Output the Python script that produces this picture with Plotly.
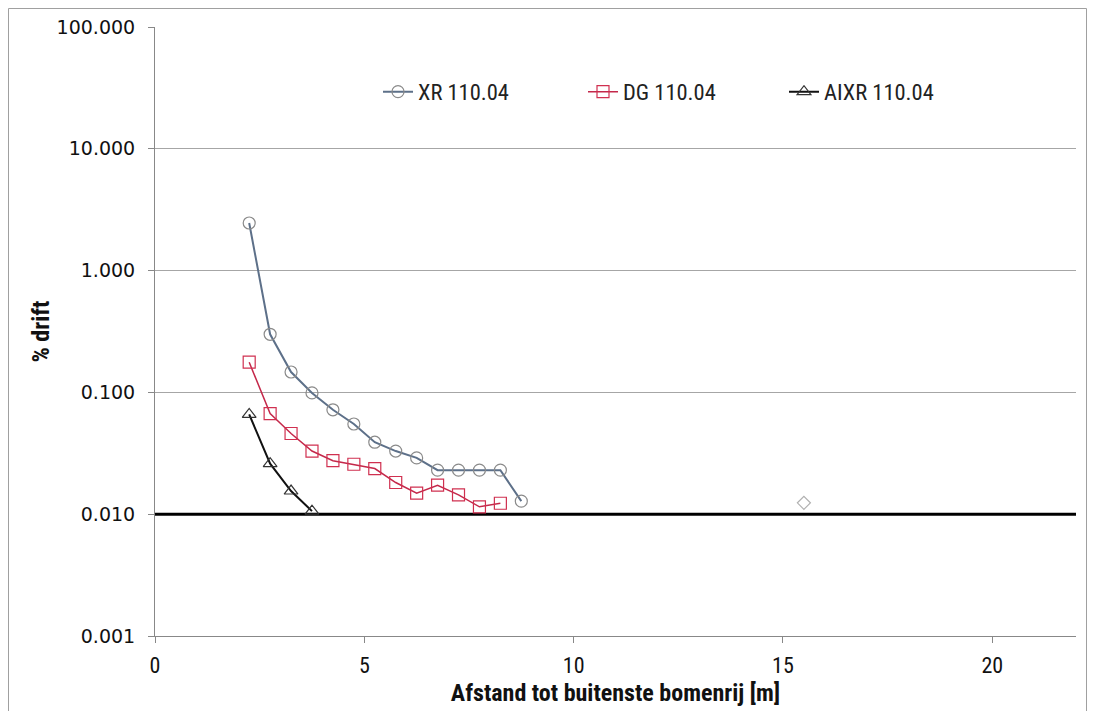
import plotly.graph_objects as go

# Data
xr_x = [2.25, 2.75, 3.25, 3.75, 4.25, 4.75, 5.25, 5.75, 6.25, 6.75, 7.25, 7.75, 8.25, 8.75]
xr_y = [2.46, 0.30, 0.147, 0.099, 0.072, 0.055, 0.039, 0.033, 0.029, 0.023, 0.023, 0.023, 0.023, 0.0128]
dg_x = [2.25, 2.75, 3.25, 3.75, 4.25, 4.75, 5.25, 5.75, 6.25, 6.75, 7.25, 7.75, 8.25]
dg_y = [0.177, 0.067, 0.046, 0.033, 0.0275, 0.0257, 0.0237, 0.0182, 0.0149, 0.0173, 0.0144, 0.0115, 0.0123]
aixr_x = [2.25, 2.75, 3.25, 3.75]
aixr_y = [0.066, 0.026, 0.0155, 0.0106]
extra_x = [15.5]
extra_y = [0.0124]
ref_x = [0, 22]
ref_y = [0.01, 0.01]

y_tickvals = [0.001, 0.01, 0.1, 1, 10, 100]
y_ticktext = ["0.001", "0.010", "0.100", "1.000", "10.000", "100.000"]
x_tickvals = [0, 5, 10, 15, 20]

narrow = "Roboto Condensed, DejaVu Sans, sans-serif"

fig = go.Figure()

fig.add_trace(go.Scatter(
    x=ref_x, y=ref_y, mode="lines", line=dict(color="black", width=3),
    showlegend=False, hoverinfo="skip"))

fig.add_trace(go.Scatter(
    x=xr_x, y=xr_y, mode="lines+markers", name="XR 110.04",
    line=dict(color="#5d7089", width=2),
    marker=dict(symbol="circle-open", size=12, color="#8a8a8a", line=dict(width=1.2)),
    legend="legend"))

fig.add_trace(go.Scatter(
    x=dg_x, y=dg_y, mode="lines+markers", name="DG 110.04",
    line=dict(color="#c4284a", width=1.5),
    marker=dict(symbol="square-open", size=12, color="#d03050", line=dict(width=1.2)),
    legend="legend2"))

fig.add_trace(go.Scatter(
    x=aixr_x, y=aixr_y, mode="lines+markers", name="AIXR 110.04",
    line=dict(color="#111111", width=2),
    marker=dict(symbol="triangle-up-open", size=12, color="#333333", line=dict(width=1.2)),
    legend="legend3"))

fig.add_trace(go.Scatter(
    x=extra_x, y=extra_y, mode="markers",
    marker=dict(symbol="diamond-open", size=10, color="#b0b0b0", line=dict(width=1.2)),
    showlegend=False))

leg_common = dict(orientation="h", bgcolor="rgba(0,0,0,0)", yanchor="middle",
                  xanchor="left", font=dict(family=narrow, size=22.5, color="#222"),
                  itemwidth=30)

# Figure is drawn with an 8px page offset (body margin)
W, H = 1079, 703
l, r, t, b = 147, 11, 19, 75
pw, ph = W - l - r, H - t - b

def px_x(p):
    return (p - l) / pw

def px_y(p):
    return (H - b - p) / ph

fig.update_layout(
    width=W, height=H,
    margin=dict(l=l, r=r, t=t, b=b, autoexpand=False),
    paper_bgcolor="white", plot_bgcolor="white",
    legend=dict(**leg_common, x=px_x(370), y=px_y(84)),
    legend2=dict(**leg_common, x=px_x(575), y=px_y(84)),
    legend3=dict(**leg_common, x=px_x(776), y=px_y(84)),
    xaxis=dict(
        range=[0, 22], tickvals=x_tickvals, ticks="outside", ticklen=6,
        tickcolor="#888", showline=True, linecolor="#888", linewidth=1,
        showgrid=False, zeroline=False, ticklabelstandoff=4, automargin=False,
        tickfont=dict(family=narrow, size=22, color="#111"),
        title=dict(text="<b>Afstand tot buitenste bomenrij [m]</b>",
                   font=dict(family=narrow, size=24, color="#111"), standoff=6)),
    yaxis=dict(
        type="log", range=[-3, 2], tickvals=y_tickvals, ticktext=y_ticktext,
        ticks="outside", ticklen=6, tickcolor="#888", showline=True,
        linecolor="#888", linewidth=1, showgrid=True, gridcolor="#a6a6a6",
        gridwidth=1, zeroline=False, ticklabelstandoff=9, automargin=False,
        tickfont=dict(family="DejaVu Sans, Verdana, sans-serif", size=19, color="#111"),
        title=dict(text="<b>% drift</b>",
                   font=dict(family=narrow, size=24, color="#111"), standoff=0)),
    shapes=[dict(type="rect", xref="paper", yref="paper",
                 x0=px_x(0.5), x1=px_x(1078.5), y0=px_y(740), y1=px_y(0.5),
                 line=dict(color="#a0a0a0", width=1), layer="below")],
)

fig.write_html("out.html")
